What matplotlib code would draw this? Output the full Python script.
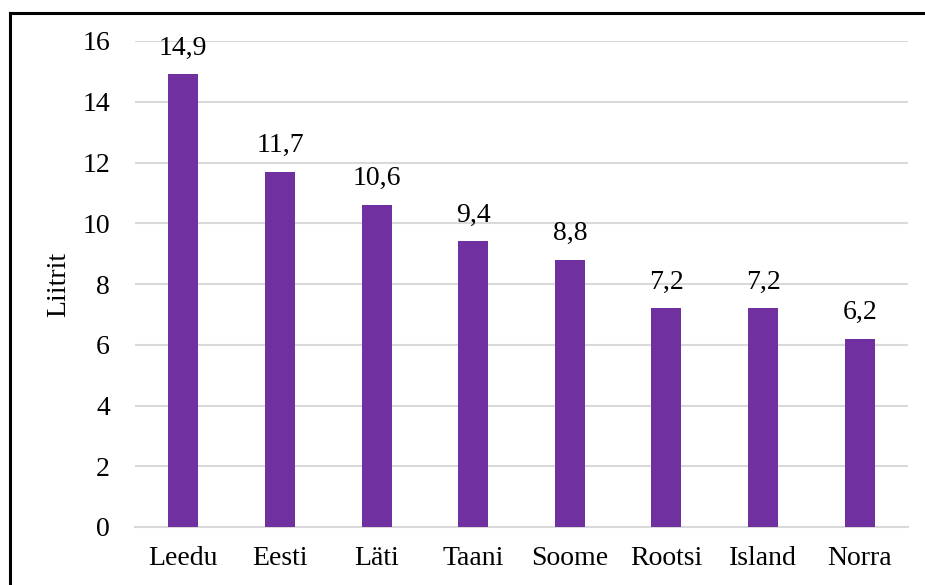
import matplotlib.pyplot as plt
from matplotlib.lines import Line2D

# data
countries = ['Leedu', 'Eesti', 'Läti', 'Taani', 'Soome', 'Rootsi', 'Island', 'Norra']
litres = [14.9, 11.7, 10.6, 9.4, 8.8, 7.2, 7.2, 6.2]
value_labels = ['14,9', '11,7', '10,6', '9,4', '8,8', '7,2', '7,2', '6,2']
yticks = [0, 2, 4, 6, 8, 10, 12, 14, 16]

plt.rcParams['font.family'] = ['Liberation Serif', 'DejaVu Serif']
fs = 20

fig = plt.figure(figsize=(9.25, 5.85), dpi=100)
ax = fig.add_axes([135 / 925, 1 - 527 / 585, 773 / 925, 486 / 585])

x = range(len(countries))
bars = ax.bar(x, litres, width=0.31, color='#7030A0', zorder=3)

for b, lab in zip(bars, value_labels):
    ax.annotate(lab, (b.get_x() + b.get_width() / 2, b.get_height()),
                xytext=(0, 10), textcoords='offset points',
                ha='center', va='bottom', fontsize=fs)

ax.set_xlim(-0.5, len(countries) - 0.5)
ax.set_ylim(0, 16)
ax.set_yticks(yticks)
ax.set_yticklabels([str(t) for t in yticks])
ax.set_xticks(list(x))
ax.set_xticklabels(countries)
ax.tick_params(axis='y', length=0, pad=18, labelsize=fs)
ax.tick_params(axis='x', length=0, pad=14, labelsize=fs)

ax.grid(axis='y', color='#D9D9D9', linewidth=1.5, zorder=0)
for s in ['top', 'right', 'left']:
    ax.spines[s].set_visible(False)
ax.spines['bottom'].set_color('#D9D9D9')
ax.spines['bottom'].set_linewidth(1.5)

fig.text(59 / 925, 1 - 284 / 585, 'Liitrit', rotation=90,
         ha='center', va='center', fontsize=fs)

# frame around the chart (left and top edges visible)
fig.add_artist(Line2D([9.5 / 925, 9.5 / 925], [0, 1 - 12.5 / 585],
                      color='black', linewidth=2.2, transform=fig.transFigure))
fig.add_artist(Line2D([9.5 / 925, 1], [1 - 12.5 / 585, 1 - 12.5 / 585],
                      color='black', linewidth=2.2, transform=fig.transFigure))

fig.savefig('out.png', dpi=100)
